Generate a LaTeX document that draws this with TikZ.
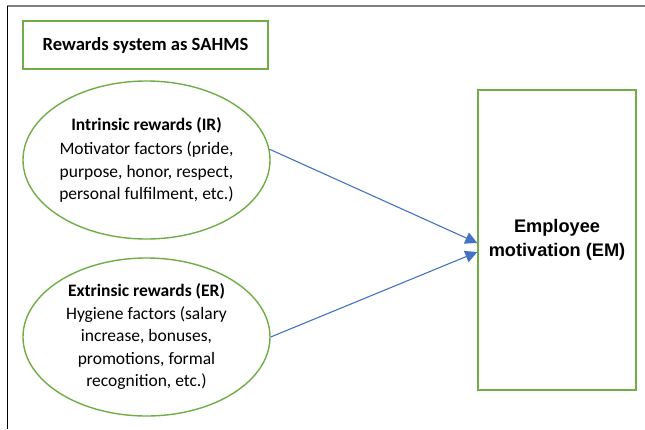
\documentclass[tikz,border=0pt]{standalone}
\usepackage{fontspec}
\setmainfont{Carlito}
\newfontfamily\arialfont{Liberation Sans}
\usepackage{tikz}
\usetikzlibrary{shapes.geometric, arrows.meta, positioning}
\definecolor{leafgreen}{HTML}{70AD47}
\definecolor{linkblue}{HTML}{4472C4}
\tikzstyle{titlebox} = [rectangle,
minimum width=245pt,
minimum height=48pt,
text centered,
line width=1.4pt,
draw=leafgreen,
font=\fontsize{18.6}{22}\selectfont\bfseries]
\tikzstyle{reward} = [ellipse,
minimum width=247pt,
minimum height=158pt,
inner sep=0pt,
align=center,
line width=1.4pt,
draw=leafgreen,
font=\fontsize{17.5}{22.5}\selectfont]
\tikzstyle{outcome} = [rectangle,
minimum width=158pt,
minimum height=300pt,
align=center,
line width=1.4pt,
draw=leafgreen,
font=\arialfont\fontsize{18.2}{24}\selectfont\bfseries]
\tikzstyle{link} = [-{Triangle[length=12pt,width=12pt]}, draw=linkblue, line width=1.1pt]

\begin{document}
\begin{tikzpicture}[x=1pt, y=-1pt, node distance=177pt]
\useasboundingbox (0,0) rectangle (645,429);

% frame
\draw[gray, line width=1.3pt] (7,6) -- (645,6);
\draw[black, line width=1pt] (7,6) -- (7,429);

\node (title) [titlebox] at (145.5,45) {Rewards system as SAHMS};

\node (ir) [reward] at (146.5,160) {\textbf{Intrinsic rewards (IR)}\\[2pt]Motivator factors (pride,\\purpose, honor, respect,\\personal fulfilment, etc.)};
\node (er) [reward, below of=ir] {\textbf{Extrinsic rewards (ER)}\\Hygiene factors (salary\\increase, bonuses,\\promotions, formal\\recognition, etc.)};

\node (em) [outcome] at (557,240) {Employee\\motivation (EM)};

\coordinate (emin1) at ([yshift=-3pt]em.west);
\coordinate (emin2) at ([yshift=-12pt]em.west);
\draw[link] (ir.5) -- (emin1);
\draw[link] (er.east) -- (emin2);

\end{tikzpicture}
\end{document}
